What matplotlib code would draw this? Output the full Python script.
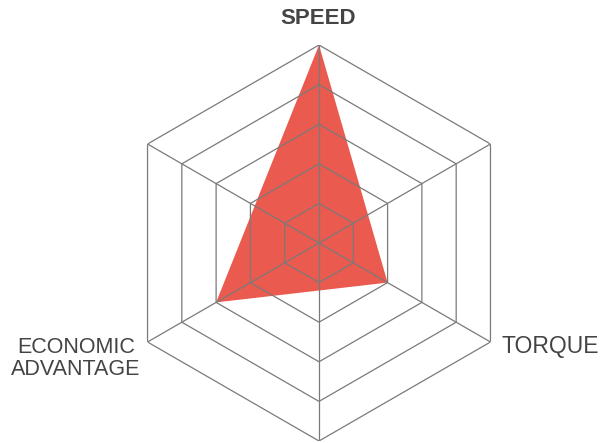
import numpy as np
import matplotlib
matplotlib.use("Agg")
import matplotlib.pyplot as plt

# data
axes_labels = ["SPEED", "", "TORQUE", "", "ECONOMIC\nADVANTAGE", ""]
axis_angles_deg = [90, 30, -30, -90, -150, 150]
ring_levels = [1, 2, 3, 4, 5]
max_level = 5
series_axes = ["SPEED", "TORQUE", "ECONOMIC\nADVANTAGE"]
series_values = [5, 2, 3]

FILL = "#EB5A4E"
GRID = "#7a7a7a"
TXT = "#444444"

plt.rcParams["font.family"] = ["Liberation Sans", "DejaVu Sans"]

W, H = 606, 443
fig = plt.figure(figsize=(W / 100, H / 100), dpi=100)
cx, cy, R = 319, 243, 198   # centre measured from the top-left
ax = fig.add_axes([(cx - R) / W, (H - cy - R) / H, 2 * R / W, 2 * R / H],
                  projection="polar")
ax.set_ylim(0, max_level)
ax.set_axis_off()

theta = np.deg2rad(axis_angles_deg)
theta_closed = np.append(theta, theta[0])

# data triangle
th = [theta[axes_labels.index(a)] for a in series_axes]
ax.fill(th + [th[0]], series_values + [series_values[0]], color=FILL,
        lw=0, zorder=2)

# hexagonal rings + spokes
for lv in ring_levels:
    ax.plot(theta_closed, [lv] * len(theta_closed), color=GRID, lw=0.9, zorder=3)
for t in theta:
    ax.plot([t, t], [0, max_level], color=GRID, lw=0.9, zorder=3)

# labels
fig.text(318 / W, 1 - 19 / H, "SPEED", ha="center", va="center",
         fontsize=16, fontweight="bold", color=TXT)
fig.text(502 / W, 1 - 347 / H, "TORQUE", ha="left", va="center",
         fontsize=16.5, color=TXT)
fig.text(76 / W, 1 - 358.5 / H, "ECONOMIC\nADVANTAGE", ha="center",
         va="center", fontsize=15.5, color=TXT, linespacing=1.12)

fig.savefig("out.png", dpi=100)
